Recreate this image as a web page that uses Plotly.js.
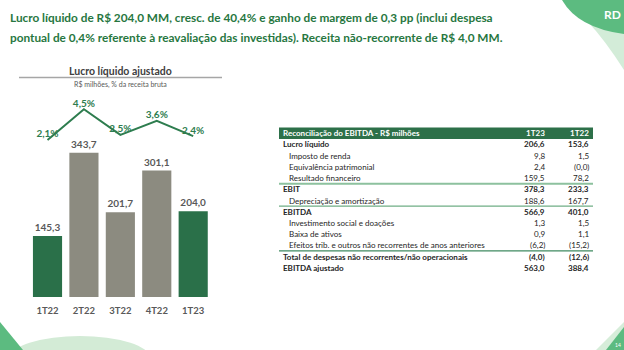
<!DOCTYPE html>
<html>
<head>
<meta charset="utf-8">
<script src="https://cdn.plot.ly/plotly-3.0.1.min.js"></script>
<style>html,body{margin:0;padding:0;background:#fff;}#chart{width:624px;height:350px;}</style>
</head>
<body>
<div id="chart"></div>
<script>
// ---- data ----
const quarters = ['1T22', '2T22', '3T22', '4T22', '1T23'];
const lucroAjustado = [145.3, 343.7, 201.7, 301.1, 204.0];
const margemPct = [2.1, 4.5, 2.5, 3.6, 2.4];
const barColors = ['#2A7049', '#8C8B80', '#8C8B80', '#8C8B80', '#2A7049'];

const titleLines = [
  'Lucro líquido de R$ 204,0 MM, cresc. de 40,4% e ganho de margem de 0,3 pp (inclui despesa',
  'pontual de 0,4% referente à reavaliação das investidas). Receita não-recorrente de R$ 4,0 MM.'
];
const chartTitle = 'Lucro líquido ajustado';
const chartSubtitle = 'R$ milhões, % da receita bruta';

const tableHeader = ['Reconciliação do EBITDA - R$ milhões', '1T23', '1T22'];
const rowLabels = [
  'Lucro líquido', 'Imposto de renda', 'Equivalência patrimonial', 'Resultado financeiro',
  'EBIT', 'Depreciação e amortização', 'EBITDA', 'Investimento social e doações',
  'Baixa de ativos', 'Efeitos trib. e outros não recorrentes de anos anteriores',
  'Total de despesas não recorrentes/não operacionais', 'EBITDA ajustado'
];
const values1T23 = [206.6, 9.8, 2.4, 159.5, 378.3, 188.6, 566.9, 1.3, 0.9, -6.2, -4.0, 563.0];
const values1T22 = [153.6, 1.5, -0.01, 78.2, 233.3, 167.7, 401.0, 1.5, 1.1, -15.2, -12.6, 388.4];
const boldRows = [0, 4, 6, 10, 11];
const ruleAfterRows = [3, 5, 9];

// ---- layout helpers (paper coords == page pixels, margins are zero) ----
const W = 624, H = 350;
const px = x => x / W;
const py = y => 1 - y / H;
const fmt = v => {
  const s = Math.abs(v).toFixed(1).replace('.', ',');
  return v < 0 ? '(' + s + ')' : s;
};
const FONT = 'Lato, "Open Sans", sans-serif';

// fit a font size so that a text spans a target width (the original uses a narrow face)
const cv = document.createElement('canvas').getContext('2d');
const fitSize = (text, bold, targetW) => {
  cv.font = (bold ? 'bold ' : '') + '20px Lato, sans-serif';
  return 20 * targetW / cv.measureText(text).width;
};
const titleSize = Math.min(fitSize(titleLines[0], true, 483), 15);
const tableSize = Math.min(fitSize(rowLabels[9], false, 196), 9);

const traces = [
  {
    type: 'bar', x: quarters, y: lucroAjustado,
    marker: {color: barColors, line: {width: 0}},
    texttemplate: '%{y:.1f}', textposition: 'outside', cliponaxis: false,
    textfont: {family: FONT, size: 10, color: '#595959', weight: 'bold'},
    hoverinfo: 'skip', xaxis: 'x', yaxis: 'y'
  },
  {
    type: 'scatter', mode: 'lines+text', x: quarters, y: margemPct,
    line: {color: '#2E7D4F', width: 2},
    texttemplate: '%{y:.1f}%', textposition: 'top center', cliponaxis: false,
    textfont: {family: FONT, size: 10, color: '#2E7D4F', weight: 'bold'},
    hoverinfo: 'skip', xaxis: 'x', yaxis: 'y2'
  }
];

const annotations = [];
const shapes = [];

// decorations (corner motifs)
const P = (x, y) => px(x).toFixed(5) + ',' + py(y).toFixed(5);
const deco = (d, color) => shapes.push({type: 'path', xref: 'paper', yref: 'paper', path: d,
  fillcolor: color, line: {width: 0}, layer: 'below'});
// top-right
deco('M' + P(588, 22) + ' Q' + P(605, 40) + ' ' + P(624, 70) + ' L' + P(624, 20) + ' Z', '#D3ECD8');
deco('M' + P(562, 0) + ' Q' + P(578, 28) + ' ' + P(624, 34) + ' L' + P(624, 0) + ' Z', '#5CBB80');
// bottom-left
shapes.push({type: 'circle', xref: 'paper', yref: 'paper', x0: px(10), x1: px(150), y0: py(336), y1: py(380),
  fillcolor: '#D3EBD6', line: {width: 0}, layer: 'below'});
deco('M' + P(0, 322) + ' L' + P(23, 350) + ' L' + P(0, 350) + ' Z', '#5CBB80');
// bottom-right
deco('M' + P(596, 350) + ' L' + P(624, 322) + ' L' + P(624, 350) + ' Z', '#D6EDD9');
deco('M' + P(606, 350) + ' L' + P(624, 327) + ' L' + P(624, 350) + ' Z', '#5CBB80');
annotations.push({xref: 'paper', yref: 'paper', x: px(612), y: py(14), xanchor: 'center', yanchor: 'middle',
  text: '<b>RD</b>', showarrow: false, font: {family: FONT, size: 12, color: '#FFFFFF'}});
annotations.push({xref: 'paper', yref: 'paper', x: px(618), y: py(345), xanchor: 'center', yanchor: 'middle',
  text: '14', showarrow: false, font: {family: FONT, size: 5, color: '#FFFFFF'}});

// title
titleLines.forEach((t, i) => annotations.push({
  xref: 'paper', yref: 'paper', x: px(8), y: py(17.5 + i * 20), xanchor: 'left', yanchor: 'middle',
  text: '<b>' + t + '</b>', showarrow: false,
  font: {family: FONT, size: titleSize, color: '#27773F'}
}));

// chart title block
annotations.push({
  xref: 'paper', yref: 'paper', x: px(120.5), y: py(71), xanchor: 'center', yanchor: 'middle',
  text: '<b>' + chartTitle + '</b>', showarrow: false, font: {family: FONT, size: 10.5, color: '#404040'}
});
annotations.push({
  xref: 'paper', yref: 'paper', x: px(120.5), y: py(84.5), xanchor: 'center', yanchor: 'middle',
  text: chartSubtitle, showarrow: false, font: {family: FONT, size: 7, color: '#595959'}
});
shapes.push({type: 'line', xref: 'paper', yref: 'paper', x0: px(19), x1: px(222), y0: py(77.5), y1: py(77.5),
  line: {color: '#A6A6A6', width: 1.6}});

// table
const tLeft = 279, tRight = 593, c1 = 546.5, c2 = 590.5, row0 = 133.3, pitch = 11.2;
const rowY = i => row0 + pitch * i;
shapes.push({type: 'rect', xref: 'paper', yref: 'paper', x0: px(tLeft), x1: px(tRight),
  y0: py(rowY(0) - 5.8), y1: py(rowY(0) + 5.8), fillcolor: '#2D7049', line: {width: 0}, layer: 'below'});
annotations.push({xref: 'paper', yref: 'paper', x: px(tLeft + 2), y: py(rowY(0)), xanchor: 'left', yanchor: 'middle',
  text: '<b>' + tableHeader[0] + '</b>', showarrow: false, font: {family: FONT, size: tableSize, color: '#FFFFFF'}});
[c1, c2].forEach((cx, k) => annotations.push({xref: 'paper', yref: 'paper', x: px(cx), y: py(rowY(0)),
  xanchor: 'right', yanchor: 'middle', text: '<b>' + tableHeader[k + 1] + '</b>', showarrow: false,
  font: {family: FONT, size: tableSize, color: '#FFFFFF'}}));

rowLabels.forEach((lab, i) => {
  const bold = boldRows.includes(i);
  const y = rowY(i + 1);
  const wrap = s => bold ? '<b>' + s + '</b>' : s;
  const f = {family: FONT, size: tableSize, color: '#262626'};
  annotations.push({xref: 'paper', yref: 'paper', x: px(bold ? tLeft + 2 : tLeft + 7.5), y: py(y),
    xanchor: 'left', yanchor: 'middle', text: wrap(lab), showarrow: false, font: f});
  annotations.push({xref: 'paper', yref: 'paper', x: px(c1), y: py(y), xanchor: 'right', yanchor: 'middle',
    text: wrap(fmt(values1T23[i])), showarrow: false, font: f});
  annotations.push({xref: 'paper', yref: 'paper', x: px(c2), y: py(y), xanchor: 'right', yanchor: 'middle',
    text: wrap(fmt(values1T22[i])), showarrow: false, font: f});
});
const ruleStyles = [{color: '#8DC19E', width: 2}, {color: '#6FAE85', width: 1.1}, {color: '#3F8A61', width: 1.1}];
ruleAfterRows.forEach((r, k) => {
  const y = (rowY(r + 1) + rowY(r + 2)) / 2;
  shapes.push({type: 'line', xref: 'paper', yref: 'paper', x0: px(tLeft), x1: px(tRight), y0: py(y), y1: py(y),
    line: ruleStyles[k]});
});

const layout = {
  width: W, height: H, margin: {l: 0, r: 0, t: 0, b: 0, pad: 0},
  paper_bgcolor: '#FFFFFF', plot_bgcolor: 'rgba(0,0,0,0)',
  separators: ',.', showlegend: false, bargap: 0.2,
  xaxis: {domain: [29.3 / W, 211.4 / W], type: 'category', range: [-0.5, 4.5], showgrid: false,
    zeroline: false, showline: false, ticks: 'outside', ticklen: 5, tickcolor: 'rgba(0,0,0,0)', fixedrange: true,
    anchor: 'y', tickfont: {family: FONT, size: 9.5, color: '#595959', weight: 'bold'}},
  yaxis: {domain: [1 - 297 / H, 1 - 90 / H], range: [0, 492.9], visible: false, fixedrange: true},
  yaxis2: {domain: [1 - 297 / H, 1 - 90 / H], range: [-10.17, 6.0], overlaying: 'y', visible: false, fixedrange: true},
  annotations: annotations, shapes: shapes
};

Plotly.newPlot('chart', traces, layout, {staticPlot: true, displayModeBar: false});
</script>
</body>
</html>
